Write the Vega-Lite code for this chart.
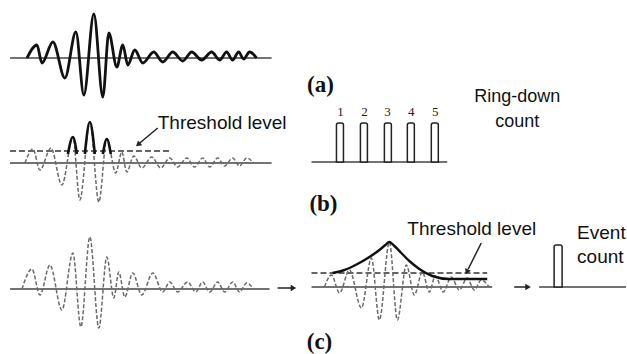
{
  "$schema": "https://vega.github.io/schema/vega-lite/v6.json",
  "width": 627,
  "height": 354,
  "autosize": {"type": "fit", "contains": "padding"},
  "padding": 0,
  "background": "white",
  "config": {"view": {"stroke": null}, "axis": null},
  "encoding": {
    "x": {"field": "x", "type": "quantitative", "scale": {"domain": [0, 627], "nice": false, "zero": false}, "axis": null},
    "y": {"field": "y", "type": "quantitative", "scale": {"domain": [0, 354], "nice": false, "zero": false, "reverse": true}, "axis": null}
  },
  "layer": [
    {
      "data": {"values": [
        {"x": 10, "x2": 272, "y": 58},
        {"x": 10, "x2": 272, "y": 163},
        {"x": 312, "x2": 448, "y": 162},
        {"x": 10, "x2": 270, "y": 289},
        {"x": 312, "x2": 493, "y": 287},
        {"x": 540, "x2": 627, "y": 287}
      ]},
      "mark": {"type": "rule", "color": "#444", "strokeWidth": 1.6},
      "encoding": {"x2": {"field": "x2"}}
    },
    {
      "data": {"values": [
        {"x": 10, "x2": 170, "y": 151},
        {"x": 312, "x2": 488, "y": 273}
      ]},
      "mark": {"type": "rule", "color": "#333", "strokeWidth": 1.4, "strokeDash": [6, 3]},
      "encoding": {"x2": {"field": "x2"}}
    },
    {
      "data": {"values": [
        {"g": "b", "x": 25, "y": 163}, {"g": "b", "x": 33, "y": 149}, {"g": "b", "x": 40, "y": 170}, {"g": "b", "x": 51, "y": 148},
        {"g": "b", "x": 62, "y": 185}, {"g": "b", "x": 73, "y": 137}, {"g": "b", "x": 80, "y": 200}, {"g": "b", "x": 90, "y": 122},
        {"g": "b", "x": 99, "y": 202}, {"g": "b", "x": 107, "y": 139}, {"g": "b", "x": 116, "y": 173}, {"g": "b", "x": 122, "y": 152},
        {"g": "b", "x": 127, "y": 172}, {"g": "b", "x": 134, "y": 156}, {"g": "b", "x": 142, "y": 168}, {"g": "b", "x": 152, "y": 157},
        {"g": "b", "x": 161, "y": 168}, {"g": "b", "x": 170, "y": 158}, {"g": "b", "x": 178, "y": 167}, {"g": "b", "x": 187, "y": 158},
        {"g": "b", "x": 195, "y": 167}, {"g": "b", "x": 203, "y": 158}, {"g": "b", "x": 210, "y": 167}, {"g": "b", "x": 218, "y": 158},
        {"g": "b", "x": 225, "y": 166}, {"g": "b", "x": 233, "y": 158}, {"g": "b", "x": 240, "y": 166}, {"g": "b", "x": 247, "y": 158},
        {"g": "b", "x": 254, "y": 163},
        {"g": "c1", "x": 22, "y": 289}, {"g": "c1", "x": 32, "y": 269}, {"g": "c1", "x": 40, "y": 295}, {"g": "c1", "x": 50, "y": 265},
        {"g": "c1", "x": 62, "y": 310}, {"g": "c1", "x": 73, "y": 253}, {"g": "c1", "x": 81, "y": 327}, {"g": "c1", "x": 90, "y": 237},
        {"g": "c1", "x": 99, "y": 328}, {"g": "c1", "x": 107, "y": 257}, {"g": "c1", "x": 114, "y": 298}, {"g": "c1", "x": 119, "y": 272},
        {"g": "c1", "x": 125, "y": 297}, {"g": "c1", "x": 133, "y": 273}, {"g": "c1", "x": 142, "y": 295}, {"g": "c1", "x": 153, "y": 273},
        {"g": "c1", "x": 163, "y": 292}, {"g": "c1", "x": 170, "y": 282}, {"g": "c1", "x": 178, "y": 292}, {"g": "c1", "x": 188, "y": 282},
        {"g": "c1", "x": 196, "y": 292}, {"g": "c1", "x": 203, "y": 282}, {"g": "c1", "x": 210, "y": 292}, {"g": "c1", "x": 218, "y": 282},
        {"g": "c1", "x": 225, "y": 292}, {"g": "c1", "x": 233, "y": 282}, {"g": "c1", "x": 240, "y": 292}, {"g": "c1", "x": 247, "y": 283},
        {"g": "c1", "x": 254, "y": 289},
        {"g": "c2", "x": 325, "y": 287}, {"g": "c2", "x": 332, "y": 275}, {"g": "c2", "x": 340, "y": 293}, {"g": "c2", "x": 350, "y": 270},
        {"g": "c2", "x": 362, "y": 308}, {"g": "c2", "x": 372, "y": 258}, {"g": "c2", "x": 380, "y": 320}, {"g": "c2", "x": 390, "y": 242},
        {"g": "c2", "x": 398, "y": 320}, {"g": "c2", "x": 407, "y": 265}, {"g": "c2", "x": 415, "y": 295}, {"g": "c2", "x": 423, "y": 272},
        {"g": "c2", "x": 430, "y": 292}, {"g": "c2", "x": 436, "y": 276}, {"g": "c2", "x": 444, "y": 292}, {"g": "c2", "x": 452, "y": 277},
        {"g": "c2", "x": 460, "y": 290}, {"g": "c2", "x": 468, "y": 278}, {"g": "c2", "x": 475, "y": 290}, {"g": "c2", "x": 482, "y": 280},
        {"g": "c2", "x": 490, "y": 287}
      ]},
      "mark": {"type": "line", "interpolate": "monotone", "color": "#6a6a6a", "strokeWidth": 1.5, "strokeDash": [4, 2]},
      "encoding": {"detail": {"field": "g"}, "order": {"field": "x", "type": "quantitative"}}
    },
    {
      "data": {"values": [
        {"x": 27, "y": 58}, {"x": 37, "y": 45}, {"x": 42, "y": 63}, {"x": 53, "y": 42}, {"x": 65, "y": 78}, {"x": 76, "y": 32},
        {"x": 84, "y": 95}, {"x": 94, "y": 14}, {"x": 103, "y": 97}, {"x": 109, "y": 33}, {"x": 117, "y": 67}, {"x": 123, "y": 45},
        {"x": 128, "y": 65}, {"x": 135, "y": 50}, {"x": 143, "y": 63}, {"x": 154, "y": 52}, {"x": 163, "y": 62}, {"x": 173, "y": 52},
        {"x": 183, "y": 61}, {"x": 192, "y": 52}, {"x": 202, "y": 60}, {"x": 212, "y": 52}, {"x": 220, "y": 60}, {"x": 227, "y": 52},
        {"x": 233, "y": 60}, {"x": 239, "y": 52}, {"x": 244, "y": 59}, {"x": 250, "y": 52}, {"x": 257, "y": 58}
      ]},
      "mark": {"type": "line", "interpolate": "monotone", "color": "#111", "strokeWidth": 2.8},
      "encoding": {"order": {"field": "x", "type": "quantitative"}}
    },
    {
      "data": {"values": [
        {"p": 1, "x": 68, "y": 154}, {"p": 1, "x": 73, "y": 137}, {"p": 1, "x": 77, "y": 154},
        {"p": 2, "x": 85, "y": 154}, {"p": 2, "x": 90, "y": 122}, {"p": 2, "x": 95, "y": 154},
        {"p": 3, "x": 103, "y": 154}, {"p": 3, "x": 107, "y": 139}, {"p": 3, "x": 111, "y": 154}
      ]},
      "mark": {"type": "line", "interpolate": "monotone", "color": "#111", "strokeWidth": 2.6},
      "encoding": {"detail": {"field": "p"}, "order": {"field": "x", "type": "quantitative"}}
    },
    {
      "data": {"values": [
        {"x": 333, "y": 273}, {"x": 345, "y": 270}, {"x": 358, "y": 264}, {"x": 370, "y": 257}, {"x": 380, "y": 250},
        {"x": 386, "y": 245}, {"x": 390, "y": 242}, {"x": 395, "y": 246}, {"x": 402, "y": 253}, {"x": 410, "y": 261},
        {"x": 420, "y": 269}, {"x": 433, "y": 276}, {"x": 450, "y": 279}, {"x": 488, "y": 279}
      ]},
      "mark": {"type": "line", "interpolate": "monotone", "color": "#111", "strokeWidth": 2.4},
      "encoding": {"order": {"field": "x", "type": "quantitative"}}
    },
    {
      "data": {"values": [
        {"x": 337, "x2": 344, "y": 123, "y2": 162},
        {"x": 361, "x2": 368, "y": 123, "y2": 162},
        {"x": 385, "x2": 392, "y": 123, "y2": 162},
        {"x": 408, "x2": 415, "y": 123, "y2": 162},
        {"x": 432, "x2": 439, "y": 123, "y2": 162},
        {"x": 555, "x2": 563, "y": 245, "y2": 287}
      ]},
      "mark": {"type": "rect", "fill": "white", "stroke": "#222", "strokeWidth": 1.5, "cornerRadiusTopLeft": 2, "cornerRadiusTopRight": 2},
      "encoding": {"x2": {"field": "x2"}, "y2": {"field": "y2"}}
    },
    {
      "data": {"values": [
        {"x": 158, "y": 128, "x2": 140, "y2": 143},
        {"x": 482, "y": 243, "x2": 469, "y2": 269},
        {"x": 278, "y": 288, "x2": 292, "y2": 288},
        {"x": 515, "y": 287, "x2": 527, "y2": 287}
      ]},
      "mark": {"type": "rule", "color": "#222", "strokeWidth": 1.5},
      "encoding": {"x2": {"field": "x2"}, "y2": {"field": "y2"}}
    },
    {
      "data": {"values": [
        {"x": 139, "y": 144, "a": 230},
        {"x": 468, "y": 271, "a": 206},
        {"x": 293, "y": 288, "a": 90},
        {"x": 528, "y": 287, "a": 90}
      ]},
      "mark": {"type": "point", "shape": "triangle", "filled": true, "color": "#222", "size": 40, "opacity": 1},
      "encoding": {"angle": {"field": "a", "type": "quantitative", "scale": null}}
    },
    {
      "data": {"values": [
        {"x": 321, "y": 85, "t": "(a)"},
        {"x": 324, "y": 204, "t": "(b)"},
        {"x": 320, "y": 342, "t": "(c)"}
      ]},
      "mark": {"type": "text", "font": "Liberation Serif", "fontWeight": "bold", "fontSize": 23, "align": "center", "baseline": "middle", "color": "#111"},
      "encoding": {"text": {"field": "t"}}
    },
    {
      "data": {"values": [
        {"x": 341, "y": 112, "t": "1"},
        {"x": 365, "y": 112, "t": "2"},
        {"x": 388, "y": 112, "t": "3"},
        {"x": 412, "y": 112, "t": "4"},
        {"x": 436, "y": 112, "t": "5"}
      ]},
      "mark": {"type": "text", "font": "Liberation Serif", "fontSize": 13, "align": "center", "baseline": "middle", "color": "#222"},
      "encoding": {"text": {"field": "t"}}
    },
    {
      "data": {"values": [
        {"x": 158, "y": 123, "t": "Threshold  level"},
        {"x": 408, "y": 229, "t": "Threshold level"}
      ]},
      "mark": {"type": "text", "font": "Liberation Sans", "fontSize": 19, "align": "left", "baseline": "middle", "color": "#111"},
      "encoding": {"text": {"field": "t"}}
    },
    {
      "data": {"values": [
        {"x": 518, "y": 97, "t": "Ring-down"},
        {"x": 518, "y": 122, "t": "count"}
      ]},
      "mark": {"type": "text", "font": "Liberation Sans", "fontSize": 18, "align": "center", "baseline": "middle", "color": "#111"},
      "encoding": {"text": {"field": "t"}}
    },
    {
      "data": {"values": [
        {"x": 578, "y": 233, "t": "Event"},
        {"x": 578, "y": 257, "t": "count"}
      ]},
      "mark": {"type": "text", "font": "Liberation Sans", "fontSize": 19, "align": "left", "baseline": "middle", "color": "#111"},
      "encoding": {"text": {"field": "t"}}
    }
  ]
}
